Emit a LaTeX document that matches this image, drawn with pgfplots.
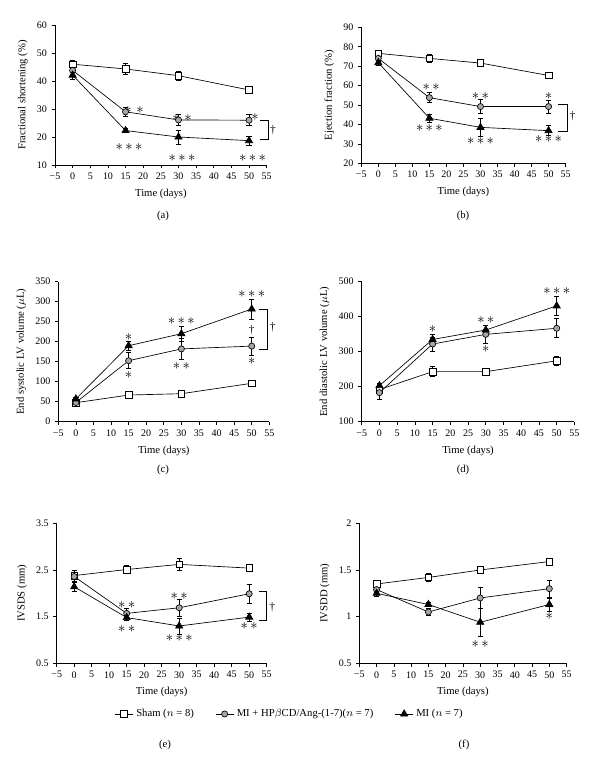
\documentclass[border=0pt]{standalone}
\usepackage{pgfplots}
\pgfplotsset{compat=1.18}
\usepackage{fontspec}
\setmainfont{Liberation Serif}
\newcommand{\st}{\ensuremath{\mathord{\ast}}}
\tikzset{
  stars/.style={font=\fontsize{11}{11}\selectfont, inner sep=0pt},
  dag/.style={font=\fontsize{8.5}{9}\selectfont, inner sep=0pt},
  br/.style={line width=0.5pt},
  subcap/.style={font=\fontsize{8}{9}\selectfont},
}
\pgfplotsset{
  panel/.style={
    scale only axis, anchor=south west,
    axis lines=left, axis line style={-, line width=0.5pt},
    xmin=-5, xmax=55, xtick={-5,0,...,55},
    xticklabels={−5,0,5,10,15,20,25,30,35,40,45,50,55},
    tick align=outside, major tick length=2.5pt,
    tick style={black, line width=0.5pt},
    clip=false,
    /pgf/number format/assume math mode=true,
    tick label style={font=\fontsize{7.5}{8}\selectfont},
    label style={font=\fontsize{8}{9}\selectfont},
    xlabel={Time (days)},
    legend style={font=\fontsize{8}{9}\selectfont},
    legend image code/.code={\draw[mark repeat=2,mark phase=2] plot coordinates {(0cm,0cm) (0.24cm,0cm) (0.48cm,0cm)};},
  },
  eb/.style={black, line width=0.5pt,
    error bars/y dir=both, error bars/y explicit,
    error bars/error bar style={line width=0.5pt, solid},
    error bars/error mark options={rotate=90, mark size=2pt, line width=0.5pt, solid}},
  sham/.style={eb, mark=square*, mark options={fill=white, mark size=2.5pt, solid}},
  hp/.style={eb, mark=*, mark options={fill=gray!70, mark size=2.3pt, solid}},
  mi/.style={eb, mark=triangle*, mark options={fill=black, mark size=3.1pt, solid}},
}
\begin{document}
\begin{tikzpicture}
\path (0,0) rectangle (450pt,-578.25pt);
% ---------------- (a)
\begin{axis}[panel, at={(55*0.75pt,-165*0.75pt)}, width=211.7*0.75pt, height=140*0.75pt,
  ymin=10, ymax=60, ytick={10,20,...,60},
  xticklabels={\raisebox{-5pt}{−5},0,5,10,15,20,25,30,35,40,45,50,55},
  ylabel={Fractional shortening (\%)}]
\addplot[sham] table[y error index=2] {
0 46 1.5
15 44.3 2
30 41.9 1.5
50 36.8 1.2
};
\addplot[hp] table[y error index=2] {
0 43.8 1.5
15 29 1.5
30 26.1 2
50 26 2
};
\addplot[mi] table[y error index=2] {
0 42.1 1.5
15 22.3 0.8
30 20 2.5
50 18.7 1.5
};
\node[stars] at (axis cs:17.4,29.6) {\st\,\,\st};
\node[stars] at (axis cs:31,26.7) {\st\,\,\st};
\node[stars] at (axis cs:51.7,27.2) {\st};
\node[stars] at (axis cs:16,16.5) {\st\,\st\,\st};
\node[stars] at (axis cs:31,12.4) {\st\,\st\,\st};
\node[stars] at (axis cs:51,12.4) {\st\,\st\,\st};
\draw[br] (axis cs:53,26) -- (axis cs:55.4,26) -- (axis cs:55.4,19) -- (axis cs:53,19);
\node[dag] at (axis cs:56.8,22.5) {†};
\end{axis}
% ---------------- (b)
\begin{axis}[panel, at={(361.3*0.75pt,-163.3*0.75pt)}, width=204.3*0.75pt, height=136*0.75pt,
  ymin=20, ymax=90, ytick={20,30,...,90},
  ylabel={Ejection fraction (\%)}]
\addplot[sham] table[y error index=2] {
0 76.6 1.8
15 74 2
30 71.6 1.8
50 65.2 1.5
};
\addplot[hp] table[y error index=2] {
0 74 1.5
15 53.8 2.6
30 49.2 3.6
50 49.2 3.3
};
\addplot[mi] table[y error index=2] {
0 71.8 1.5
15 43.2 2
30 38.5 4.5
50 36.8 2.5
};
\node[stars] at (axis cs:15.5,59.3) {\st\,\st};
\node[stars] at (axis cs:30,54.8) {\st\,\st};
\node[stars] at (axis cs:50,54.8) {\st};
\node[stars] at (axis cs:15,38.3) {\st\,\st\,\st};
\node[stars] at (axis cs:30,31.2) {\st\,\st\,\st};
\node[stars] at (axis cs:50,32.3) {\st\,\st\,\st};
\draw[br] (axis cs:52.9,50.5) -- (axis cs:55.4,50.5) -- (axis cs:55.4,36.4) -- (axis cs:52.9,36.4);
\node[dag] at (axis cs:57,44) {†};
\end{axis}
% ---------------- (c)
\begin{axis}[panel, at={(58.3*0.75pt,-421.7*0.75pt)}, width=211*0.75pt, height=140*0.75pt,
  ymin=0, ymax=350, ytick={0,50,...,350},
  ylabel={End systolic LV volume ($\mu$L)}]
\addplot[sham] table[y error index=2] {
0 47.5 5
15 66.7 7
30 70 5
50 96 8
};
\addplot[hp] table[y error index=2] {
0 48 4
15 152.5 20
30 182 27
50 189 23
};
\addplot[mi] table[y error index=2] {
0 57 5
15 190 11
30 220 19
50 281.7 25
};
\node[stars] at (axis cs:15,212.5) {\st};
\node[stars] at (axis cs:15,116.7) {\st};
\node[stars] at (axis cs:30,251.7) {\st\,\st\,\st};
\node[stars] at (axis cs:30,139) {\st\,\st};
\node[stars] at (axis cs:50,319) {\st\,\st\,\st};
\node[dag] at (axis cs:50,229) {†};
\node[stars] at (axis cs:50,152.5) {\st};
\draw[br] (axis cs:52.2,281.7) -- (axis cs:54.3,281.7) -- (axis cs:54.3,181) -- (axis cs:52.2,181);
\node[dag] at (axis cs:56,236) {†};
\end{axis}
% ---------------- (d)
\begin{axis}[panel, at={(361.7*0.75pt,-421.7*0.75pt)}, width=212.7*0.75pt, height=140*0.75pt,
  ymin=100, ymax=500, ytick={100,200,...,500},
  ylabel={End diastolic LV volume ($\mu$L)}]
\addplot[sham] table[y error index=2] {
0 192 8
15 243 14
30 243 10
50 274 12
};
\addplot[hp] table[y error index=2] {
0 183 18
15 322 20
30 349.5 25
50 367 27
};
\addplot[mi] table[y error index=2] {
0 203 8
15 335 14
30 362 12
50 431 27
};
\node[stars] at (axis cs:15,364) {\st};
\node[stars] at (axis cs:30,390) {\st\,\st};
\node[stars] at (axis cs:30,308) {\st};
\node[stars] at (axis cs:50,473) {\st\,\st\,\st};
\end{axis}
% ---------------- (e)
\begin{axis}[panel, at={(56.7*0.75pt,-663.3*0.75pt)}, width=210*0.75pt, height=140*0.75pt,
  ymin=0.5, ymax=3.5, ytick={0.5,1.5,2.5,3.5},
  ylabel={IVSDS (mm)},
  legend style={at={(1.111,-0.362)}, anchor=center, draw=none, fill=none,
    legend columns=3, /tikz/every even column/.append style={column sep=14pt}},
  legend cell align=left]
\addplot[sham] table[y error index=2] {
0 2.38 0.12
15 2.51 0.08
30 2.62 0.12
50 2.54 0.07
};
\addlegendentry{Sham ($n$ = 8)}
\addplot[hp] table[y error index=2] {
0 2.36 0.1
15 1.57 0.1
30 1.69 0.18
50 1.99 0.2
};
\addlegendentry{MI + HP$\beta$CD/Ang-(1-7)($n$ = 7)}
\addplot[mi] table[y error index=2] {
0 2.14 0.1
15 1.48 0.05
30 1.3 0.17
50 1.49 0.08
};
\addlegendentry{MI ($n$ = 7)}
\node[stars] at (axis cs:15,1.75) {\st\,\st};
\node[stars] at (axis cs:15,1.23) {\st\,\st};
\node[stars] at (axis cs:30,1.94) {\st\,\st};
\node[stars] at (axis cs:30,1.05) {\st\,\st\,\st};
\node[stars] at (axis cs:50,1.29) {\st\,\st};
\draw[br] (axis cs:52.8,2.05) -- (axis cs:55,2.05) -- (axis cs:55,1.43) -- (axis cs:52.8,1.43);
\node[dag] at (axis cs:56.6,1.7) {†};
\end{axis}
% ---------------- (f)
\begin{axis}[panel, at={(359.3*0.75pt,-663.3*0.75pt)}, width=207.3*0.75pt, height=140*0.75pt,
  ymin=0.5, ymax=2, ytick={0.5,1,1.5,2},
  ylabel={IVSDD (mm)}]
\addplot[sham] table[y error index=2] {
0 1.35 0.04
15 1.42 0.04
30 1.5 0.04
50 1.59 0.04
};
\addplot[hp] table[y error index=2] {
0 1.29 0.03
15 1.05 0.04
30 1.2 0.11
50 1.3 0.09
};
\addplot[mi] table[y error index=2] {
0 1.25 0.03
15 1.13 0.02
30 0.94 0.15
50 1.13 0.07
};
\node[stars] at (axis cs:30,0.71) {\st\,\st};
\node[stars] at (axis cs:50,1.01) {\st};
\end{axis}
% captions
\node[subcap] at (163*0.75pt,-216*0.75pt) {(a)};
\node[subcap] at (463*0.75pt,-216*0.75pt) {(b)};
\node[subcap] at (163*0.75pt,-470*0.75pt) {(c)};
\node[subcap] at (463*0.75pt,-470*0.75pt) {(d)};
\node[subcap] at (165*0.75pt,-745*0.75pt) {(e)};
\node[subcap] at (464*0.75pt,-745*0.75pt) {(f)};
\end{tikzpicture}
\end{document}
